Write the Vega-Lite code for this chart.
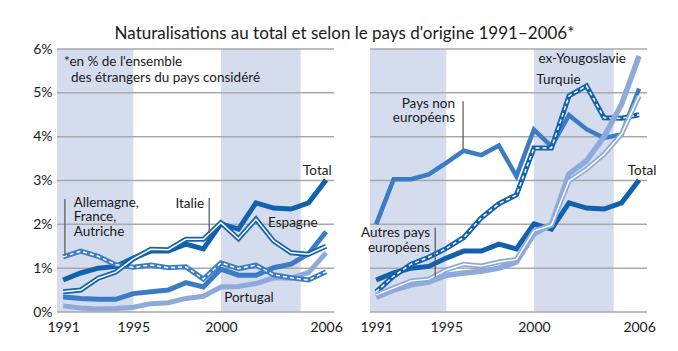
{
  "$schema": "https://vega.github.io/schema/vega-lite/v6.json",
  "background": "white",
  "padding": {"left": 32, "top": 25, "right": 10, "bottom": 5},
  "bounds": "flush",
  "title": {"text": "Naturalisations au total et selon le pays d'origine 1991–2006*", "fontSize": 17, "font": "Lato", "fontWeight": "normal", "color": "#1a1a1a", "anchor": "middle", "offset": -1},
  "config": {"font": "Lato", "view": {"stroke": null}, "text": {"font": "Lato", "fontSize": 13.5, "color": "#1a1a1a", "baseline": "middle", "lineHeight": 14.5}},
  "spacing": 36,
  "datasets": {
    "natur": [
      {"s": "Total", "an": 1991, "v": 0.73}, {"s": "Total", "an": 1992, "v": 0.89}, {"s": "Total", "an": 1993, "v": 1.0}, {"s": "Total", "an": 1994, "v": 1.04}, {"s": "Total", "an": 1995, "v": 1.23}, {"s": "Total", "an": 1996, "v": 1.39}, {"s": "Total", "an": 1997, "v": 1.39}, {"s": "Total", "an": 1998, "v": 1.55}, {"s": "Total", "an": 1999, "v": 1.44}, {"s": "Total", "an": 2000, "v": 2.01}, {"s": "Total", "an": 2001, "v": 1.89}, {"s": "Total", "an": 2002, "v": 2.49}, {"s": "Total", "an": 2003, "v": 2.37}, {"s": "Total", "an": 2004, "v": 2.35}, {"s": "Total", "an": 2005, "v": 2.49}, {"s": "Total", "an": 2006, "v": 3.01},
      {"s": "Italie", "an": 1991, "v": 0.46}, {"s": "Italie", "an": 1992, "v": 0.5}, {"s": "Italie", "an": 1993, "v": 0.77}, {"s": "Italie", "an": 1994, "v": 0.91}, {"s": "Italie", "an": 1995, "v": 1.21}, {"s": "Italie", "an": 1996, "v": 1.43}, {"s": "Italie", "an": 1997, "v": 1.42}, {"s": "Italie", "an": 1998, "v": 1.66}, {"s": "Italie", "an": 1999, "v": 1.66}, {"s": "Italie", "an": 2000, "v": 2.04}, {"s": "Italie", "an": 2001, "v": 1.67}, {"s": "Italie", "an": 2002, "v": 2.12}, {"s": "Italie", "an": 2003, "v": 1.62}, {"s": "Italie", "an": 2004, "v": 1.35}, {"s": "Italie", "an": 2005, "v": 1.32}, {"s": "Italie", "an": 2006, "v": 1.5},
      {"s": "AFA", "an": 1991, "v": 1.26}, {"s": "AFA", "an": 1992, "v": 1.39}, {"s": "AFA", "an": 1993, "v": 1.27}, {"s": "AFA", "an": 1994, "v": 1.08}, {"s": "AFA", "an": 1995, "v": 1.02}, {"s": "AFA", "an": 1996, "v": 1.07}, {"s": "AFA", "an": 1997, "v": 1.01}, {"s": "AFA", "an": 1998, "v": 1.03}, {"s": "AFA", "an": 1999, "v": 0.75}, {"s": "AFA", "an": 2000, "v": 1.12}, {"s": "AFA", "an": 2001, "v": 0.99}, {"s": "AFA", "an": 2002, "v": 1.07}, {"s": "AFA", "an": 2003, "v": 0.85}, {"s": "AFA", "an": 2004, "v": 0.78}, {"s": "AFA", "an": 2005, "v": 0.73}, {"s": "AFA", "an": 2006, "v": 0.92},
      {"s": "Espagne", "an": 1991, "v": 0.34}, {"s": "Espagne", "an": 1992, "v": 0.31}, {"s": "Espagne", "an": 1993, "v": 0.29}, {"s": "Espagne", "an": 1994, "v": 0.29}, {"s": "Espagne", "an": 1995, "v": 0.42}, {"s": "Espagne", "an": 1996, "v": 0.46}, {"s": "Espagne", "an": 1997, "v": 0.5}, {"s": "Espagne", "an": 1998, "v": 0.67}, {"s": "Espagne", "an": 1999, "v": 0.57}, {"s": "Espagne", "an": 2000, "v": 0.98}, {"s": "Espagne", "an": 2001, "v": 0.84}, {"s": "Espagne", "an": 2002, "v": 0.84}, {"s": "Espagne", "an": 2003, "v": 1.01}, {"s": "Espagne", "an": 2004, "v": 1.09}, {"s": "Espagne", "an": 2005, "v": 1.33}, {"s": "Espagne", "an": 2006, "v": 1.83},
      {"s": "Portugal", "an": 1991, "v": 0.14}, {"s": "Portugal", "an": 1992, "v": 0.09}, {"s": "Portugal", "an": 1993, "v": 0.07}, {"s": "Portugal", "an": 1994, "v": 0.08}, {"s": "Portugal", "an": 1995, "v": 0.11}, {"s": "Portugal", "an": 1996, "v": 0.19}, {"s": "Portugal", "an": 1997, "v": 0.21}, {"s": "Portugal", "an": 1998, "v": 0.31}, {"s": "Portugal", "an": 1999, "v": 0.36}, {"s": "Portugal", "an": 2000, "v": 0.57}, {"s": "Portugal", "an": 2001, "v": 0.58}, {"s": "Portugal", "an": 2002, "v": 0.65}, {"s": "Portugal", "an": 2003, "v": 0.78}, {"s": "Portugal", "an": 2004, "v": 0.77}, {"s": "Portugal", "an": 2005, "v": 0.9}, {"s": "Portugal", "an": 2006, "v": 1.35},
      {"s": "Pays", "an": 1991, "v": 2.0}, {"s": "Pays", "an": 1992, "v": 3.03}, {"s": "Pays", "an": 1993, "v": 3.03}, {"s": "Pays", "an": 1994, "v": 3.14}, {"s": "Pays", "an": 1995, "v": 3.4}, {"s": "Pays", "an": 1996, "v": 3.68}, {"s": "Pays", "an": 1997, "v": 3.58}, {"s": "Pays", "an": 1998, "v": 3.8}, {"s": "Pays", "an": 1999, "v": 3.1}, {"s": "Pays", "an": 2000, "v": 4.16}, {"s": "Pays", "an": 2001, "v": 3.78}, {"s": "Pays", "an": 2002, "v": 4.49}, {"s": "Pays", "an": 2003, "v": 4.17}, {"s": "Pays", "an": 2004, "v": 3.97}, {"s": "Pays", "an": 2005, "v": 4.05}, {"s": "Pays", "an": 2006, "v": 5.1},
      {"s": "Turquie", "an": 1991, "v": 0.46}, {"s": "Turquie", "an": 1992, "v": 0.82}, {"s": "Turquie", "an": 1993, "v": 1.09}, {"s": "Turquie", "an": 1994, "v": 1.25}, {"s": "Turquie", "an": 1995, "v": 1.45}, {"s": "Turquie", "an": 1996, "v": 1.7}, {"s": "Turquie", "an": 1997, "v": 2.15}, {"s": "Turquie", "an": 1998, "v": 2.47}, {"s": "Turquie", "an": 1999, "v": 2.67}, {"s": "Turquie", "an": 2000, "v": 3.74}, {"s": "Turquie", "an": 2001, "v": 3.74}, {"s": "Turquie", "an": 2002, "v": 4.93}, {"s": "Turquie", "an": 2003, "v": 5.16}, {"s": "Turquie", "an": 2004, "v": 4.43}, {"s": "Turquie", "an": 2005, "v": 4.42}, {"s": "Turquie", "an": 2006, "v": 4.5},
      {"s": "Yougo", "an": 1991, "v": 0.34}, {"s": "Yougo", "an": 1992, "v": 0.5}, {"s": "Yougo", "an": 1993, "v": 0.62}, {"s": "Yougo", "an": 1994, "v": 0.68}, {"s": "Yougo", "an": 1995, "v": 0.84}, {"s": "Yougo", "an": 1996, "v": 0.89}, {"s": "Yougo", "an": 1997, "v": 0.93}, {"s": "Yougo", "an": 1998, "v": 1.0}, {"s": "Yougo", "an": 1999, "v": 1.14}, {"s": "Yougo", "an": 2000, "v": 1.78}, {"s": "Yougo", "an": 2001, "v": 2.0}, {"s": "Yougo", "an": 2002, "v": 3.15}, {"s": "Yougo", "an": 2003, "v": 3.45}, {"s": "Yougo", "an": 2004, "v": 4.0}, {"s": "Yougo", "an": 2005, "v": 4.74}, {"s": "Yougo", "an": 2006, "v": 5.84},
      {"s": "Autres", "an": 1991, "v": 0.39}, {"s": "Autres", "an": 1992, "v": 0.55}, {"s": "Autres", "an": 1993, "v": 0.71}, {"s": "Autres", "an": 1994, "v": 0.75}, {"s": "Autres", "an": 1995, "v": 0.96}, {"s": "Autres", "an": 1996, "v": 1.09}, {"s": "Autres", "an": 1997, "v": 1.05}, {"s": "Autres", "an": 1998, "v": 1.14}, {"s": "Autres", "an": 1999, "v": 1.2}, {"s": "Autres", "an": 2000, "v": 1.85}, {"s": "Autres", "an": 2001, "v": 1.98}, {"s": "Autres", "an": 2002, "v": 2.99}, {"s": "Autres", "an": 2003, "v": 3.26}, {"s": "Autres", "an": 2004, "v": 3.6}, {"s": "Autres", "an": 2005, "v": 4.06}, {"s": "Autres", "an": 2006, "v": 4.93}
    ],
    "bands": [{"an": 1990.65, "an2": 1995, "v": 0, "v2": 6}, {"an": 2000, "an2": 2004.55, "v": 0, "v2": 6}],
    "grid": [{"an": 1990.65, "an2": 2006.45, "v": 0}, {"an": 1990.65, "an2": 2006.45, "v": 1}, {"an": 1990.65, "an2": 2006.45, "v": 2}, {"an": 1990.65, "an2": 2006.45, "v": 3}, {"an": 1990.65, "an2": 2006.45, "v": 4}, {"an": 1990.65, "an2": 2006.45, "v": 5}, {"an": 1990.65, "an2": 2006.45, "v": 6}]
  },
  "hconcat": [
    {
      "width": 277, "height": 263,
      "data": {"name": "natur"},
      "encoding": {
        "x": {"field": "an", "type": "quantitative", "scale": {"domain": [1990.65, 2006.45], "nice": false, "zero": false}, "axis": {"values": [1991, 1995, 2000, 2006], "format": "d", "title": null, "grid": false, "domain": false, "ticks": false, "labelPadding": 8, "labelFontSize": 14, "labelColor": "#1a1a1a", "labelFont": "Lato", "labelFlush": false, "labelOverlap": false}},
        "y": {"field": "v", "type": "quantitative", "scale": {"domain": [0, 6], "nice": false, "zero": false}, "axis": {"values": [0, 1, 2, 3, 4, 5, 6], "labelExpr": "datum.value + '%'", "title": null, "grid": false, "domain": false, "ticks": false, "labelPadding": 5, "labelFontSize": 14, "labelColor": "#1a1a1a", "labelFont": "Lato", "labelOverlap": false}}
      },
      "layer": [
        {"data": {"name": "bands"}, "mark": {"type": "rect", "color": "#d4dcee"}, "encoding": {"x2": {"field": "an2"}, "y2": {"field": "v2"}}},
        {"data": {"name": "grid"}, "mark": {"type": "rule", "color": "#a9a9a9", "strokeWidth": 1.5}, "encoding": {"x2": {"field": "an2"}}},
        {"transform": [{"filter": "datum.s === 'Portugal'"}], "mark": {"type": "line", "color": "#8eaadb", "strokeWidth": 5}},
        {"transform": [{"filter": "datum.s === 'Espagne'"}], "mark": {"type": "line", "color": "#3b7cc4", "strokeWidth": 5}},
        {"transform": [{"filter": "datum.s === 'Total'"}], "mark": {"type": "line", "color": "#1261ad", "strokeWidth": 5}},
        {"transform": [{"filter": "datum.s === 'AFA'"}], "mark": {"type": "line", "color": "#3b7cc4", "strokeWidth": 5}},
        {"transform": [{"filter": "datum.s === 'AFA'"}], "mark": {"type": "line", "color": "white", "strokeWidth": 1.5, "strokeDash": [4, 3]}},
        {"transform": [{"filter": "datum.s === 'Italie'"}], "mark": {"type": "line", "color": "#1261ad", "strokeWidth": 5}},
        {"transform": [{"filter": "datum.s === 'Italie'"}], "mark": {"type": "line", "color": "white", "strokeWidth": 1.5}},
        {"data": {"values": [{"an": 1991.1, "v": 2.58, "v2": 1.28}, {"an": 1999.33, "v": 2.6, "v2": 1.8}]}, "mark": {"type": "rule", "color": "#555555", "strokeWidth": 1.2}, "encoding": {"y2": {"field": "v2"}}},
        {"data": {"values": [{"an": 1991.05, "v": 5.71, "t": "*en % de l'ensemble"}, {"an": 1991.45, "v": 5.34, "t": "des étrangers du pays considéré"}, {"an": 1991.6, "v": 2.49, "t": ["Allemagne,", "France,", "Autriche"]}]}, "mark": {"type": "text", "align": "left"}, "encoding": {"text": {"field": "t"}}},
        {"data": {"values": [{"an": 1999.04, "v": 2.46, "t": "Italie"}]}, "mark": {"type": "text", "align": "right"}, "encoding": {"text": {"field": "t"}}},
        {"data": {"values": [{"an": 2005.5, "v": 3.22, "t": "Total"}, {"an": 2004.1, "v": 2.03, "t": "Espagne"}, {"an": 2001.6, "v": 0.32, "t": "Portugal"}]}, "mark": {"type": "text", "align": "center"}, "encoding": {"text": {"field": "t"}}}
      ]
    },
    {
      "width": 277, "height": 263,
      "data": {"name": "natur"},
      "encoding": {
        "x": {"field": "an", "type": "quantitative", "scale": {"domain": [1990.65, 2006.45], "nice": false, "zero": false}, "axis": {"values": [1991, 1995, 2000, 2006], "format": "d", "title": null, "grid": false, "domain": false, "ticks": false, "labelPadding": 8, "labelFontSize": 14, "labelColor": "#1a1a1a", "labelFont": "Lato", "labelFlush": false, "labelOverlap": false}},
        "y": {"field": "v", "type": "quantitative", "scale": {"domain": [0, 6], "nice": false, "zero": false}, "axis": null}
      },
      "layer": [
        {"data": {"name": "bands"}, "mark": {"type": "rect", "color": "#d4dcee"}, "encoding": {"x2": {"field": "an2"}, "y2": {"field": "v2"}}},
        {"data": {"name": "grid"}, "mark": {"type": "rule", "color": "#a9a9a9", "strokeWidth": 1.5}, "encoding": {"x2": {"field": "an2"}}},
        {"transform": [{"filter": "datum.s === 'Total'"}], "mark": {"type": "line", "color": "#1261ad", "strokeWidth": 5}},
        {"transform": [{"filter": "datum.s === 'Pays'"}], "mark": {"type": "line", "color": "#3b7cc4", "strokeWidth": 4.5}},
        {"transform": [{"filter": "datum.s === 'Turquie'"}], "mark": {"type": "line", "color": "#1261ad", "strokeWidth": 5}},
        {"transform": [{"filter": "datum.s === 'Turquie'"}], "mark": {"type": "line", "color": "white", "strokeWidth": 1.5, "strokeDash": [4, 3]}},
        {"transform": [{"filter": "datum.s === 'Yougo'"}], "mark": {"type": "line", "color": "#8eaadb", "strokeWidth": 5.5}},
        {"transform": [{"filter": "datum.s === 'Autres'"}], "mark": {"type": "line", "color": "#8eaadb", "strokeWidth": 5}},
        {"transform": [{"filter": "datum.s === 'Autres'"}], "mark": {"type": "line", "color": "white", "strokeWidth": 1.5}},
        {"data": {"values": [{"an": 1995.96, "v": 4.81, "v2": 3.72}, {"an": 1994.37, "v": 1.92, "v2": 0.8}]}, "mark": {"type": "rule", "color": "#555555", "strokeWidth": 1.2}, "encoding": {"y2": {"field": "v2"}}},
        {"data": {"values": [{"an": 1995.5, "v": 4.75, "t": ["Pays non", "européens"]}, {"an": 1994.08, "v": 1.8, "t": ["Autres pays", "européens"]}]}, "mark": {"type": "text", "align": "right"}, "encoding": {"text": {"field": "t"}}},
        {"data": {"values": [{"an": 2002.75, "v": 5.77, "t": "ex-Yougoslavie"}, {"an": 2001.4, "v": 5.29, "t": "Turquie"}, {"an": 2006.17, "v": 3.22, "t": "Total"}]}, "mark": {"type": "text", "align": "center"}, "encoding": {"text": {"field": "t"}}}
      ]
    }
  ]
}
